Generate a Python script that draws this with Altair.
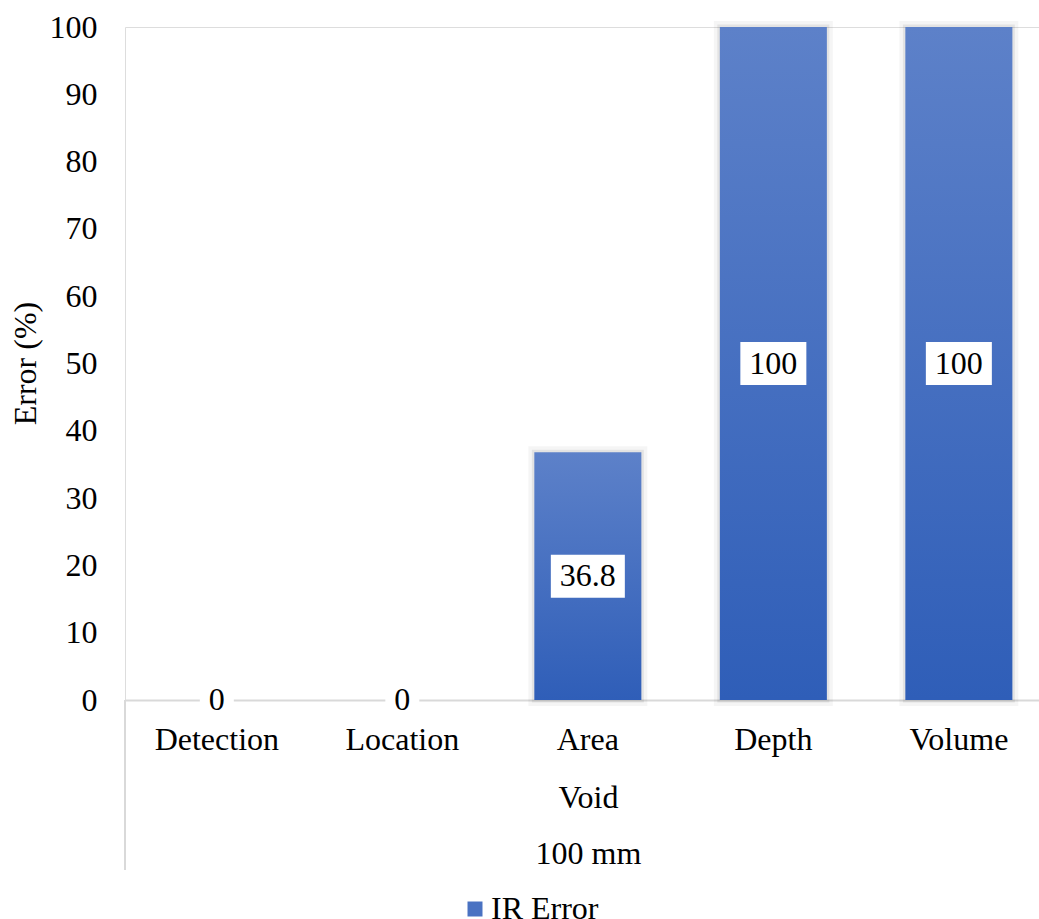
import altair as alt
import pandas as pd

# Data
categories = ["Detection", "Location", "Area", "Depth", "Volume"]
ir_error = [0, 0, 36.8, 100, 100]
series_name = "IR Error"
y_ticks = list(range(0, 101, 10))

FONT = "Liberation Serif"
FS = 32
AXIS_GREY = "#d9d9d9"

df = pd.DataFrame({"category": categories, "value": ir_error})
df["series"] = series_name
df["label"] = df["value"].map(lambda v: f"{v:g}")
# white label box width follows the text width (digits 0.5em, point 0.25em)
df["box_w"] = df["label"].map(
    lambda s: sum(0.25 if c == "." else 0.5 for c in s) * FS + 18
)

x_scale = alt.Scale(domain=categories, paddingInner=0.423, paddingOuter=0.175, align=0.59)
y_scale = alt.Scale(domain=[0, 100], nice=False)

x_axis = alt.Axis(
    title=["Void", "100 mm"],
    titleFont=FONT, titleFontSize=FS, titleFontWeight="normal", titleColor="black",
    titleX=463, titleY=97, titleBaseline="middle", titleLineHeight=56,
    labelFont=FONT, labelFontSize=FS, labelColor="black", labelAngle=0,
    labelBaseline="alphabetic", labelPadding=49,
    ticks=False, domainColor=AXIS_GREY, domainWidth=2, grid=False,
)
y_axis = alt.Axis(
    values=y_ticks, title="Error (%)",
    titleFont=FONT, titleFontSize=FS, titleFontWeight="normal", titleColor="black",
    titleX=-100, titleY=336, titleAngle=270, titleAlign="center", titleBaseline="middle",
    labelFont=FONT, labelFontSize=FS, labelColor="black", labelPadding=28,
    ticks=False, domain=False, grid=False,
)

base = alt.Chart(df)

x_enc = alt.X("category:N", scale=x_scale, axis=x_axis, sort=categories)

gradient = alt.Gradient(
    gradient="linear",
    stops=[alt.GradientStop(color="#5d81c9", offset=0),
           alt.GradientStop(color="#2f5eb8", offset=1)],
    x1=0, x2=0, y1=0, y2=1,
)

# soft shadow around the bars
shadow_wide = base.transform_filter("datum.value > 0").mark_bar(
    fill="transparent", stroke="black", strokeOpacity=0.04, strokeWidth=12
).encode(x=x_enc, y=alt.Y("value:Q", scale=y_scale, axis=y_axis))
shadow_near = base.transform_filter("datum.value > 0").mark_bar(
    fill="transparent", stroke="black", strokeOpacity=0.07, strokeWidth=5
).encode(x=x_enc, y=alt.Y("value:Q", scale=y_scale, axis=y_axis))

bars = base.mark_bar(color=gradient).encode(
    x=x_enc, y=alt.Y("value:Q", scale=y_scale, axis=y_axis)
)

# zero-height bars that carry the legend entry
legend_layer = base.mark_bar().encode(
    x=x_enc,
    y=alt.Y("zero:Q", scale=y_scale, axis=y_axis),
    color=alt.Color(
        "series:N",
        scale=alt.Scale(domain=[series_name], range=["#4a72c2"]),
        legend=alt.Legend(
            title=None, orient="none", legendX=334, legendY=866,
            symbolType="square", symbolSize=225, symbolStrokeWidth=0,
            labelFont=FONT, labelFontSize=FS, labelColor="black", labelOffset=0,
            padding=0,
        ),
    ),
).transform_calculate(zero="0")

# white boxes behind the value labels, centred at half the bar height
boxes = base.transform_calculate(
    top="datum.value / 2 + 3.2",
    bottom="datum.value / 2 - 3.2",
).mark_bar(color="white").encode(
    x=x_enc,
    y=alt.Y("top:Q", scale=y_scale, axis=y_axis),
    y2="bottom:Q",
    size=alt.Size("box_w:Q", scale=None, legend=None),
)

labels = base.transform_calculate(mid="datum.value / 2").mark_text(
    font=FONT, fontSize=FS, color="black", baseline="middle", align="center"
).encode(
    x=x_enc,
    y=alt.Y("mid:Q", scale=y_scale, axis=y_axis),
    text="label:N",
)

# left border of the category label area
border = alt.Chart(alt.Data(values=[{"k": 0}])).mark_rule(
    color=AXIS_GREY, strokeWidth=2
).encode(x=alt.value(0), y=alt.value(673), y2=alt.value(843))

chart = alt.layer(
    shadow_wide, shadow_near, bars, legend_layer, border, boxes, labels
).properties(
    width=914, height=673,
    autosize=alt.AutoSizeParams(type="none"),
    padding={"left": 125, "top": 27, "right": 0, "bottom": 219},
).configure_view(stroke=None).configure(background="white")

chart.save("out.html", embed_options={"renderer": "svg", "actions": False})
